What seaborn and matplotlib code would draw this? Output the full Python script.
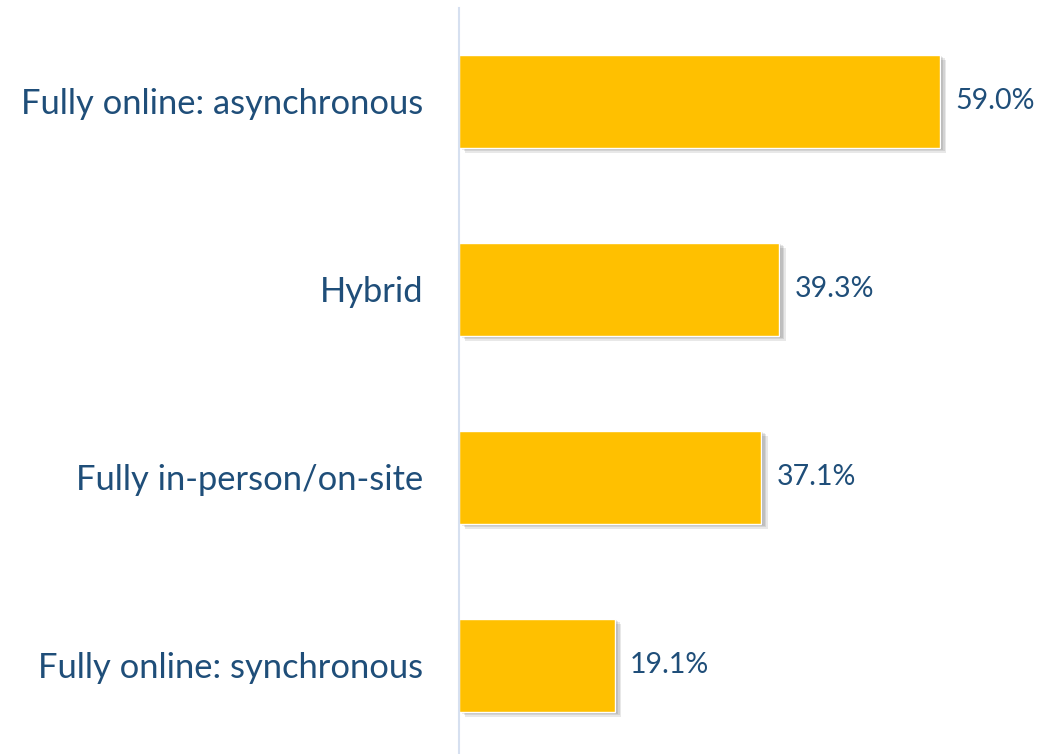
import matplotlib
matplotlib.use('Agg')
import matplotlib.pyplot as plt
import matplotlib.patheffects as pe
import seaborn as sns
import pandas as pd

# Data
categories = ['Fully online: asynchronous', 'Hybrid', 'Fully in-person/on-site', 'Fully online: synchronous']
values = [59.0, 39.3, 37.1, 19.1]

df = pd.DataFrame({'mode': categories, 'pct': values})

sns.set_style('white')
plt.rcParams['font.family'] = ['Lato', 'DejaVu Sans']

text_color = '#1F4E79'

fig = plt.figure(figsize=(10.61, 7.54), dpi=100)
ax = fig.add_axes([459 / 1061, 0, 602 / 1061, 746 / 754])

sns.barplot(data=df, x='pct', y='mode', color='#FFC000', saturation=1, width=0.495, ax=ax)

# soft drop shadow, built from a few stacked offsets
shadow = [pe.SimplePatchShadow(offset=(o, -o * 0.8), shadow_rgbFace='black', alpha=0.09)
          for o in (4.5, 3.5, 2.5, 1.5)]
for bar in ax.patches:
    bar.set_path_effects(shadow + [pe.Normal()])

ax.set_xlim(0, 602 / 8.15)
ax.set_ylim(3.473, -0.495)

ax.bar_label(ax.containers[0], labels=[f'{v:.1f}%' for v in values],
             padding=11, fontsize=20.5, color=text_color)

ax.set_xlabel('')
ax.set_ylabel('')
ax.set_xticks([])
ax.tick_params(axis='y', length=0, pad=26, labelsize=24.8, labelcolor=text_color)

for side in ['top', 'right', 'bottom']:
    ax.spines[side].set_visible(False)
ax.spines['left'].set_color('#D6E0F0')
ax.spines['left'].set_linewidth(1.5)

fig.savefig('out.png', dpi=100)
